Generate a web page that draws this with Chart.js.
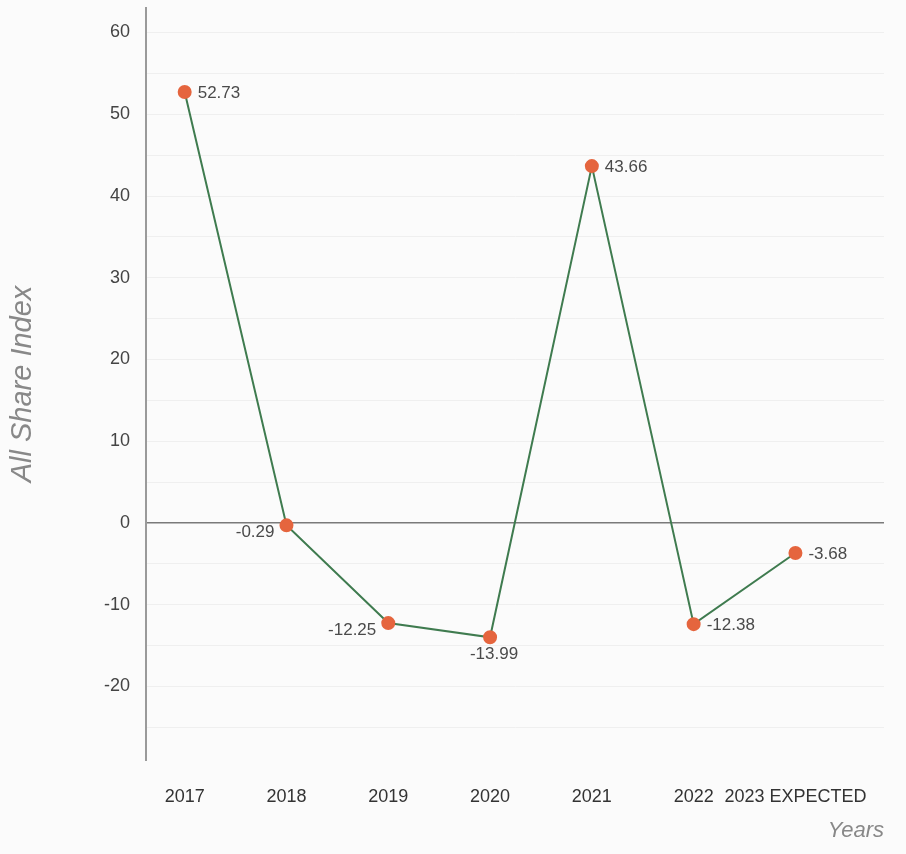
<!DOCTYPE html>
<html>
<head>
<meta charset="utf-8">
<title>All Share Index</title>
<script src="https://cdn.jsdelivr.net/npm/chart.js@4"></script>
<style>
  html, body { margin: 0; padding: 0; background: #fbfbfb; }
  #wrap { width: 906px; height: 854px; }
</style>
</head>
<body>
<div id="wrap"><canvas id="indexChart" width="906" height="854"></canvas></div>
<script>
const years = ["2017", "2018", "2019", "2020", "2021", "2022", "2023 EXPECTED"];
const indexChange = [52.73, -0.29, -12.25, -13.99, 43.66, -12.38, -3.68];
const yTicks = [60, 50, 40, 30, 20, 10, 0, -10, -20];

// where each value label sits next to its point
const labelSide = ["right", "left", "left", "below", "right", "right", "right"];

const valueLabels = {
  id: "valueLabels",
  afterDatasetsDraw(chart) {
    const c = chart.ctx;
    const meta = chart.getDatasetMeta(0);
    c.save();
    c.font = "17px 'Liberation Sans', Arial, sans-serif";
    c.fillStyle = "#4a4a4a";
    meta.data.forEach((pt, i) => {
      const txt = indexChange[i].toFixed(2);
      const side = labelSide[i];
      if (side === "right") {
        c.textAlign = "left"; c.textBaseline = "middle";
        c.fillText(txt, pt.x + 13, pt.y + 1);
      } else if (side === "left") {
        c.textAlign = "right"; c.textBaseline = "middle";
        c.fillText(txt, pt.x - 12, pt.y + 7);
      } else {
        c.textAlign = "center"; c.textBaseline = "top";
        c.fillText(txt, pt.x + 4, pt.y + 9);
      }
    });
    c.restore();
  }
};

// one point per year, placed on a numeric x axis by its index
const points = years.map((y, i) => ({ x: i, y: indexChange[i] }));

const ctx = document.getElementById("indexChart").getContext("2d");
const chart = new Chart(ctx, {
  type: "line",
  data: {
    datasets: [{
      label: "All Share Index",
      data: points,
      borderColor: "#3f7b4f",
      borderWidth: 2,
      pointBackgroundColor: "#e5653e",
      pointBorderColor: "#e5653e",
      pointRadius: 6,
      tension: 0
    }]
  },
  options: {
    responsive: false,
    animation: false,
    layout: { padding: { top: 8, right: 22, bottom: 6, left: 0 } },
    plugins: {
      legend: { display: false },
      tooltip: { enabled: false }
    },
    scales: {
      x: {
        type: "linear",
        min: -0.38,
        max: 6.87,
        afterBuildTicks(scale) {
          scale.ticks = years.map((y, i) => ({ value: i }));
        },
        grid: { display: false, drawTicks: false },
        border: { display: false },
        ticks: {
          color: "#333",
          font: { size: 18, family: "'Liberation Sans', Arial, sans-serif" },
          padding: 26,
          maxRotation: 0,
          autoSkip: false,
          callback: v => years[v]
        },
        title: {
          display: true,
          text: "Years",
          align: "end",
          color: "#888",
          font: { size: 22, style: "italic", family: "'Liberation Sans', Arial, sans-serif" },
          padding: { top: 14 }
        },
        afterFit(scale) {
          scale.height = 88;
          scale.paddingLeft = 0;
          scale.paddingRight = 0;
        }
      },
      y: {
        min: -29,
        max: 63,
        afterBuildTicks(scale) {
          const t = [];
          for (let v = -25; v <= 60; v += 5) t.push({ value: v });
          scale.ticks = t;
        },
        grid: {
          drawTicks: false,
          color: c => c.tick.value === 0 ? "#7a7a7a" : "#efefef",
          lineWidth: c => c.tick.value === 0 ? 1.5 : 1
        },
        border: { display: true, color: "#9a9a9a", width: 2 },
        ticks: {
          color: "#444",
          font: { size: 18, family: "'Liberation Sans', Arial, sans-serif" },
          padding: 16,
          callback: v => yTicks.includes(v) ? v : ""
        },
        title: {
          display: true,
          text: "All Share Index",
          color: "#888",
          font: { size: 29, style: "italic", family: "'Liberation Sans', Arial, sans-serif" },
          padding: { top: 6, bottom: 0 }
        },
        afterFit(scale) {
          scale.width = 146;
          scale.paddingTop = 0;
          scale.paddingBottom = 0;
        }
      }
    }
  },
  plugins: [valueLabels]
});
</script>
</body>
</html>
